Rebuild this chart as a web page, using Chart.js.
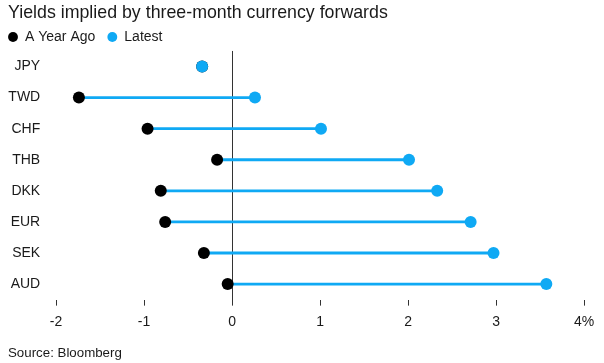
<!DOCTYPE html>
<html>
<head>
<meta charset="utf-8">
<script src="https://cdn.jsdelivr.net/npm/chart.js@4"></script>
<style>
  html, body { margin: 0; padding: 0; background: #ffffff; }
  #wrap { width: 604px; height: 363px; position: relative; }
</style>
</head>
<body>
<div id="wrap"><canvas id="c" width="604" height="363"></canvas></div>
<script>
const categories = ['JPY', 'TWD', 'CHF', 'THB', 'DKK', 'EUR', 'SEK', 'AUD'];
const yearAgo = [-0.34, -1.74, -0.96, -0.17, -0.81, -0.76, -0.32, -0.05];
const latest = [-0.34, 0.26, 1.01, 2.01, 2.33, 2.71, 2.97, 3.57];
const xTicks = [-2, -1, 0, 1, 2, 3, 4];

const BLUE = '#0fa9f4';
const FONT = "'Liberation Sans', Arial, Helvetica, sans-serif";
const TEXT = '#1a1a1a';

const legendPlace = {
  id: 'legendPlace',
  afterLayout(chart) {
    const lg = chart.legend;
    if (!lg) return;
    const pad = lg.options.labels.padding;
    lg.left = 8 - pad;
    lg.top = 18;
    if (typeof lg.adjustHitBoxes === 'function') lg.adjustHitBoxes();
  }
};

new Chart(document.getElementById('c'), {
  data: {
    labels: categories,
    datasets: [
      {
        type: 'bar',
        label: 'range',
        data: categories.map((c, i) => [yearAgo[i], latest[i]]),
        backgroundColor: BLUE,
        borderWidth: 0,
        barThickness: 2.2,
        order: 3
      },
      {
        type: 'line',
        label: 'A Year Ago',
        data: yearAgo,
        showLine: false,
        pointStyle: 'circle',
        pointRadius: 6,
        pointHoverRadius: 6,
        pointBackgroundColor: '#000000',
        backgroundColor: '#000000',
        borderColor: '#000000',
        pointBorderWidth: 0,
        borderWidth: 0,
        order: 2
      },
      {
        type: 'line',
        label: 'Latest',
        data: latest,
        showLine: false,
        pointStyle: 'circle',
        pointRadius: 6,
        pointHoverRadius: 6,
        pointBackgroundColor: BLUE,
        backgroundColor: BLUE,
        borderColor: BLUE,
        pointBorderWidth: 0,
        borderWidth: 0,
        order: 1
      }
    ]
  },
  plugins: [legendPlace],
  options: {
    indexAxis: 'y',
    responsive: false,
    animation: false,
    devicePixelRatio: 1,
    layout: { padding: { left: 8, right: 11, top: 2, bottom: 2 } },
    scales: {
      x: {
        type: 'linear',
        min: -2.1,
        max: 4.1,
        afterBuildTicks: (s) => { s.ticks = xTicks.map(v => ({ value: v })); },
        grid: {
          drawOnChartArea: true,
          color: (ctx) => (ctx.tick && ctx.tick.value === 0) ? '#333333' : 'rgba(0,0,0,0)',
          tickColor: '#333333',
          tickLength: 6,
          lineWidth: 1
        },
        border: { display: false },
        ticks: {
          color: TEXT,
          font: { family: FONT, size: 14 },
          padding: 7.8,
          maxRotation: 0,
          callback: (v) => v === 4 ? '4%' : String(v)
        }
      },
      y: {
        type: 'category',
        grid: { display: false, drawTicks: false },
        border: { display: false },
        afterFit: (s) => { s.width = 39.2; },
        ticks: {
          color: TEXT,
          font: { family: FONT, size: 14 },
          padding: 7
        }
      }
    },
    plugins: {
      title: {
        display: true,
        text: 'Yields implied by three-month currency forwards',
        align: 'start',
        color: TEXT,
        font: { family: FONT, size: 17.8, weight: 'normal' },
        padding: { top: 0, bottom: 2 }
      },
      subtitle: {
        display: true,
        position: 'bottom',
        text: 'Source: Bloomberg',
        align: 'start',
        color: TEXT,
        font: { family: FONT, size: 13.3, weight: 'normal' },
        padding: { top: 7, bottom: 0 }
      },
      legend: {
        display: true,
        align: 'start',
        maxHeight: 25.6,
        labels: {
          filter: (item) => item.datasetIndex !== 0,
          sort: (a, b) => a.datasetIndex - b.datasetIndex,
          usePointStyle: true,
          boxWidth: 10,
          boxHeight: 7,
          padding: 12,
          color: TEXT,
          font: { family: FONT, size: 14 }
        }
      },
      tooltip: { enabled: false }
    }
  }
});
</script>
</body>
</html>
